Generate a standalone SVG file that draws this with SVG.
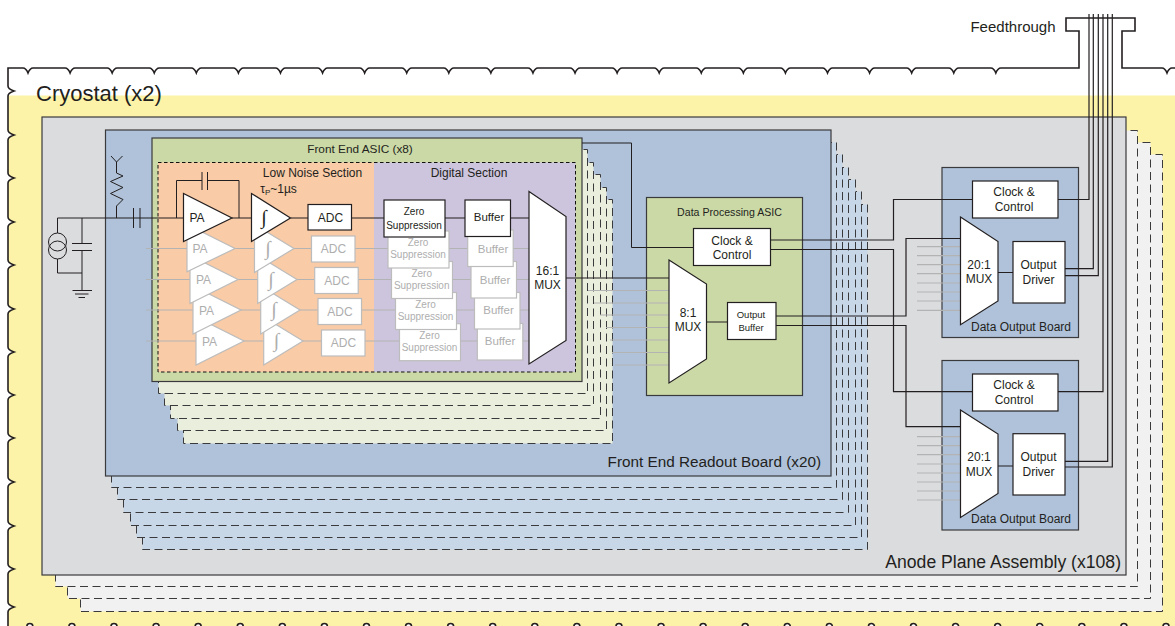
<svg xmlns="http://www.w3.org/2000/svg" xmlns:xlink="http://www.w3.org/1999/xlink" width="1175" height="626" viewBox="0 0 1175 626">
<style>
text{font-family:"Liberation Sans",Arial,sans-serif;fill:#231f20;text-anchor:middle}
.l{stroke:#231f20;stroke-width:1;fill:none}
.t{stroke:#231f20;stroke-width:1.2;fill:none}
.w{stroke:#b3b3b3;stroke-width:1.2;fill:none}
.b{fill:#fff;stroke:#231f20;stroke-width:1.2}
.g{fill:#fff;stroke:#bcbcbc;stroke-width:1.2}
.gt{fill:#aeaeae}
.f12{font-size:12px}
.f10{font-size:10px}
.fi{font-size:20px;font-family:"Liberation Serif",serif}
.sa{fill:#f1f1f1;stroke:#3a3a3c;stroke-dasharray:8 4.5}
.sb{fill:#c8d7e8;stroke:#3a3a3c;stroke-dasharray:8 4.5}
.sc{fill:#eaeedd;stroke:#3a3a3c;stroke-dasharray:8 4.5}
.blue{fill:#afc2da;stroke:#3a3a3c;stroke-width:1.2}
.green{fill:#cbd9a6;stroke:#3a3a3c;stroke-width:1.2}
</style>
<defs>
<path id="outline" d="M8 68H23q3 0 5 5q2-5 5-5h32.08q3 0 5 5q2-5 5-5h32.08q3 0 5 5q2-5 5-5h32.08q3 0 5 5q2-5 5-5h32.08q3 0 5 5q2-5 5-5h32.08q3 0 5 5q2-5 5-5h32.08q3 0 5 5q2-5 5-5h32.08q3 0 5 5q2-5 5-5h32.08q3 0 5 5q2-5 5-5h32.08q3 0 5 5q2-5 5-5h32.08q3 0 5 5q2-5 5-5h32.08q3 0 5 5q2-5 5-5h32.08q3 0 5 5q2-5 5-5h32.08q3 0 5 5q2-5 5-5h32.08q3 0 5 5q2-5 5-5h32.08q3 0 5 5q2-5 5-5h32.08q3 0 5 5q2-5 5-5h32.08q3 0 5 5q2-5 5-5h32.08q3 0 5 5q2-5 5-5h32.08q3 0 5 5q2-5 5-5h32.08q3 0 5 5q2-5 5-5h32.08q3 0 5 5q2-5 5-5h32.08q3 0 5 5q2-5 5-5h32.08q3 0 5 5q2-5 5-5H1079V31H1066V18H1135V31H1122V68H1162q3 0 5 5q2-5 5-5H1185V630H1169v-3.500a3 3 0 0 0-6 0v3.500h-36.080v-3.500a3 3 0 0 0-6 0v3.500h-36.080v-3.500a3 3 0 0 0-6 0v3.500h-36.080v-3.500a3 3 0 0 0-6 0v3.500h-36.080v-3.500a3 3 0 0 0-6 0v3.500h-36.080v-3.500a3 3 0 0 0-6 0v3.500h-36.080v-3.500a3 3 0 0 0-6 0v3.500h-36.080v-3.500a3 3 0 0 0-6 0v3.500h-36.080v-3.500a3 3 0 0 0-6 0v3.500h-36.080v-3.500a3 3 0 0 0-6 0v3.500h-36.080v-3.500a3 3 0 0 0-6 0v3.500h-36.080v-3.500a3 3 0 0 0-6 0v3.500h-36.080v-3.500a3 3 0 0 0-6 0v3.500h-36.080v-3.500a3 3 0 0 0-6 0v3.500h-36.080v-3.500a3 3 0 0 0-6 0v3.500h-36.080v-3.500a3 3 0 0 0-6 0v3.500h-36.080v-3.500a3 3 0 0 0-6 0v3.500h-36.080v-3.500a3 3 0 0 0-6 0v3.500h-36.080v-3.500a3 3 0 0 0-6 0v3.500h-36.080v-3.500a3 3 0 0 0-6 0v3.500h-36.080v-3.500a3 3 0 0 0-6 0v3.500h-36.080v-3.500a3 3 0 0 0-6 0v3.500h-36.080v-3.500a3 3 0 0 0-6 0v3.500h-36.080v-3.500a3 3 0 0 0-6 0v3.500h-36.080v-3.500a3 3 0 0 0-6 0v3.500h-36.080v-3.500a3 3 0 0 0-6 0v3.500h-36.080v-3.500a3 3 0 0 0-6 0v3.500h-36.080v-3.500a3 3 0 0 0-6 0v3.500H8V612q0-3 6-5q-6-2-6-5V574q0-3 6-5q-6-2-6-5V531q0-3 6-5q-6-2-6-5V487q0-3 6-5q-6-2-6-5V443q0-3 6-5q-6-2-6-5V400q0-3 6-5q-6-2-6-5V357q0-3 6-5q-6-2-6-5V314q0-3 6-5q-6-2-6-5V270q0-3 6-5q-6-2-6-5V227q0-3 6-5q-6-2-6-5V183q0-3 6-5q-6-2-6-5V140q0-3 6-5q-6-2-6-5V96q0-3 6-5q-6-2-6-5Z"/>
<clipPath id="belowTop"><rect x="0" y="95.500" width="1175" height="531"/></clipPath>
</defs>
<rect width="1175" height="626" fill="#fff"/>
<g id="cryostat">
<use xlink:href="#outline" href="#outline" fill="#fcf3a8" clip-path="url(#belowTop)"/>
<use xlink:href="#outline" href="#outline" fill="none" stroke="#231f20" stroke-width="1.6"/>
<text x="36" y="101" font-size="22" style="text-anchor:start">Cryostat (x2)</text>
</g>
<g id="anode-plane-assembly">
<rect class="sa" x="80.500" y="154.500" width="1082" height="457"/>
<rect class="sa" x="67.500" y="142.500" width="1083" height="456"/>
<rect class="sa" x="55.500" y="130.500" width="1082" height="456"/>
<rect x="42" y="117" width="1084" height="458" fill="#dbdcde" stroke="#3a3a3c" stroke-width="1.2"/>
<text x="1121" y="568" font-size="17.600" style="text-anchor:end">Anode Plane Assembly (x108)</text>
</g>
<g id="front-end-readout-board">
<rect class="sb" x="142.500" y="204.500" width="725" height="345"/>
<rect class="sb" x="136.500" y="191.500" width="725" height="346"/>
<rect class="sb" x="130.500" y="179.500" width="725" height="346"/>
<rect class="sb" x="123.500" y="167.500" width="725" height="345"/>
<rect class="sb" x="117.500" y="154.500" width="725" height="345"/>
<rect class="sb" x="111.500" y="142.500" width="725" height="345"/>
<rect class="blue" x="105.500" y="130" width="725.500" height="346"/>
<text x="821" y="467" font-size="15.300" style="text-anchor:end">Front End Readout Board (x20)</text>
</g>
<g id="front-end-asic">
<rect class="sc" x="183.500" y="199.500" width="429" height="244"/>
<rect class="sc" x="177.500" y="187.500" width="429" height="243"/>
<rect class="sc" x="170.500" y="174.500" width="430" height="244"/>
<rect class="sc" x="164.500" y="162.500" width="429" height="243"/>
<rect class="sc" x="158.500" y="149.500" width="429" height="244"/>
<rect class="green" x="152" y="138" width="430" height="243.500"/>
<text x="360" y="153" font-size="11.800">Front End ASIC (x8)</text>
<rect x="158" y="162.500" width="216" height="209.500" fill="#f9cba6"/>
<rect x="374" y="162.500" width="201.500" height="209.500" fill="#cdc5dd"/>
<rect x="158" y="162.500" width="417.500" height="209.500" fill="none" stroke="#111" stroke-dasharray="3.500 2.500"/>
<text class="f12" x="312.500" y="177">Low Noise Section</text>
<text class="f12" x="469" y="177">Digital Section</text>
<text x="278.500" y="193" font-size="12">τ<tspan font-size="8" dy="2">P</tspan><tspan dy="-2">~1µs</tspan></text>
</g>
<g id="data-processing-asic">
<rect class="green" x="646.500" y="197.500" width="156" height="198"/>
<text x="729.500" y="216" font-size="10.600">Data Processing ASIC</text>
</g>
<g id="data-output-board-1">
<rect class="blue" x="942" y="167.500" width="136.500" height="170"/>
<text class="f12" x="1021" y="330.500">Data Output Board</text>
</g>
<g id="data-output-board-2">
<rect class="blue" x="942" y="360.500" width="136.500" height="169.500"/>
<text class="f12" x="1021" y="523">Data Output Board</text>
</g>
<g id="connectors">
<path class="w" d="M146 248.500H530M146 279.500H530M146 310H530M146 341H530"/>
<path class="w" d="M588 290.500H669M594 303H669M600 315H669M606 327.500H669M610 340H669M612 352.500H669M615 365H669"/>
<path class="w" d="M917 246.700H961M917 255.700H961M917 264.700H961M917 273.700H961M917 283H961M917 292H961M917 301H961M917 310.300H961"/>
<path class="w" d="M917 436.700H961M917 445.700H961M917 454.700H961M917 464H961M917 473H961M917 482H961M917 491H961M917 500H961"/>
<path class="t" d="M57.500 218H183.500M232 218H251.500M290.500 218H308M351.500 218H384M445 218H465M510.500 218H529"/>
<path class="l" d="M176.500 218V180.500H202M207.500 180.500H239V218"/>
<path class="l" d="M202 172V190M207.500 172V190M133.500 208V228M140 208V228"/>
<path class="l" d="M57.500 218V233M57.500 259V273H82M82 218V243.500M72 243.500H92M72 250.500H92M82 250.500V290.500M72.500 290.500H92M75 294H88.500M78.500 297.500H85"/>
<path class="l" d="M116.500 218V206L123 199.500L110.500 193.500L123 187.500L110.500 181.500L123 176L116.500 173V162M116.500 162L111 156M116.500 162L122.500 156"/>
<path class="l" d="M566 278H669M706.500 322H727.500"/>
<path class="l" d="M582 143H631.500V247.500H693.500"/>
<path class="t" d="M770.500 240H893.500V199.500H972.500M770.500 249.500H893.500V391.700H972.500"/>
<path class="t" d="M776 316H906V238.500H961M776 325.500H906V426.700H961"/>
<path class="l" d="M998 272.500H1013M998 466H1013"/>
<path class="t" d="M1058 199.500H1089V14M1065 268.700H1093.300V14M1065 275.700H1098.300V14M1058 391.700H1103V14M1065 461.300H1107.700V14M1065 467H1112.300V14"/>
</g>
<g id="current-source"><circle class="l" cx="57.500" cy="242" r="9"/><circle class="l" cx="57.500" cy="250" r="9"/></g>
<g id="ghost-row-4">
<path class="g" d="M196 317V365L244 341Z"/><text class="gt f12" x="209.500" y="345.500">PA</text>
<path class="g" d="M263.700 317V365L303 341Z"/><text class="gt fi" x="276.500" y="347">∫</text>
<rect class="g" x="321.500" y="330" width="43.500" height="26"/><text class="gt f12" x="343.500" y="347">ADC</text>
<rect class="g" x="399.500" y="323.700" width="61" height="37"/><text class="gt f10" x="429.500" y="338.500">Zero</text><text class="gt f10" x="429.500" y="351">Suppression</text>
<rect class="g" x="477.300" y="323.500" width="45.500" height="36.500"/><text class="gt" font-size="11.500" x="500" y="345">Buffer</text>
</g>
<g id="ghost-row-3">
<path class="g" d="M193 286V334L241 310Z"/><text class="gt f12" x="206.500" y="314.500">PA</text>
<path class="g" d="M260.700 286V334L300 310Z"/><text class="gt fi" x="274" y="316">∫</text>
<rect class="g" x="318" y="298.500" width="43.500" height="26"/><text class="gt f12" x="340" y="316">ADC</text>
<rect class="g" x="395.500" y="292.500" width="61" height="37"/><text class="gt f10" x="425.500" y="307.500">Zero</text><text class="gt f10" x="425.500" y="319.500">Suppression</text>
<rect class="g" x="474.500" y="292.500" width="45.500" height="36.500"/><text class="gt" font-size="11.500" x="498.500" y="314">Buffer</text>
</g>
<g id="ghost-row-2">
<path class="g" d="M190 255.500V303.500L238 279.500Z"/><text class="gt f12" x="203.500" y="284">PA</text>
<path class="g" d="M257.700 255.500V303.500L297 279.500Z"/><text class="gt fi" x="271" y="285.500">∫</text>
<rect class="g" x="314.700" y="267.500" width="43.500" height="26"/><text class="gt f12" x="337" y="284.500">ADC</text>
<rect class="g" x="391.500" y="261.500" width="61" height="37"/><text class="gt f10" x="421.700" y="276.500">Zero</text><text class="gt f10" x="421.700" y="288.500">Suppression</text>
<rect class="g" x="471" y="261.500" width="45.500" height="36.500"/><text class="gt" font-size="11.500" x="495" y="283.500">Buffer</text>
</g>
<g id="ghost-row-1">
<path class="g" d="M187 224.500V271.700L235 248.500Z"/><text class="gt f12" x="200" y="253">PA</text>
<path class="g" d="M254.500 224.500V272.500L294 248.500Z"/><text class="gt fi" x="268" y="254.500">∫</text>
<rect class="g" x="311.500" y="236" width="43.500" height="26"/><text class="gt f12" x="333.500" y="253">ADC</text>
<rect class="g" x="388" y="231" width="61" height="37"/><text class="gt f10" x="418" y="245.500">Zero</text><text class="gt f10" x="418" y="257.500">Suppression</text>
<rect class="g" x="467.700" y="230" width="45.500" height="36.500"/><text class="gt" font-size="11.500" x="493" y="252.500">Buffer</text>
</g>
<g id="pa"><path class="b" d="M183.500 193.500V241.500L232 218Z"/><text class="f12" x="197" y="222">PA</text></g>
<g id="integrator"><path class="b" d="M251.500 193.500V241.500L290.500 218Z"/><text class="fi" x="264" y="224">∫</text></g>
<g id="adc"><rect class="b" x="308" y="204.500" width="43.500" height="25.500"/><text class="f12" x="330.500" y="222">ADC</text></g>
<g id="zero-suppression"><rect class="b" x="384" y="200" width="61" height="37"/><text class="f10" x="414" y="214.500">Zero</text><text class="f10" x="414" y="228.500">Suppression</text></g>
<g id="buffer"><rect class="b" x="465" y="200" width="45.500" height="36.500"/><text font-size="11.500" x="489" y="221">Buffer</text></g>
<g id="mux-16"><path class="b" d="M529 191.500L566 216.500V340.500L529 364Z"/><text class="f12" x="547.500" y="275">16:1</text><text class="f12" x="547.500" y="289">MUX</text></g>
<g id="dp-clock"><rect class="b" x="693.500" y="228.500" width="77" height="37"/><text class="f12" x="732" y="245">Clock &amp;</text><text class="f12" x="732" y="259">Control</text></g>
<g id="mux-8"><path class="b" d="M669 260L706.500 284V359L669 383Z"/><text class="f12" x="688" y="317">8:1</text><text class="f12" x="688" y="331">MUX</text></g>
<g id="output-buffer"><rect class="b" x="727.500" y="302.500" width="48.500" height="37"/><text font-size="9.500" x="751" y="318">Output</text><text font-size="9.500" x="751" y="331">Buffer</text></g>
<g id="board1-clock"><rect class="b" x="972.500" y="181" width="85.500" height="37"/><text class="f12" x="1014" y="196">Clock &amp;</text><text class="f12" x="1014" y="211">Control</text></g>
<g id="board1-mux"><path class="b" d="M960.500 217L998 241.500V301L960.500 324.700Z"/><text class="f12" x="979" y="269">20:1</text><text class="f12" x="979" y="283">MUX</text></g>
<g id="board1-driver"><rect class="b" x="1013" y="241.500" width="52" height="61.500"/><text class="f12" x="1038.500" y="269">Output</text><text class="f12" x="1038.500" y="284">Driver</text></g>
<g id="board2-clock"><rect class="b" x="972.500" y="374" width="85.500" height="37"/><text class="f12" x="1014" y="389">Clock &amp;</text><text class="f12" x="1014" y="403.500">Control</text></g>
<g id="board2-mux"><path class="b" d="M960.500 410L998 434V493.500L960.500 517.500Z"/><text class="f12" x="979" y="461">20:1</text><text class="f12" x="979" y="476">MUX</text></g>
<g id="board2-driver"><rect class="b" x="1013" y="433.700" width="52" height="61.300"/><text class="f12" x="1038.500" y="461">Output</text><text class="f12" x="1038.500" y="476">Driver</text></g>
<g id="feedthrough"><text x="1013" y="32" font-size="15">Feedthrough</text></g>
</svg>
